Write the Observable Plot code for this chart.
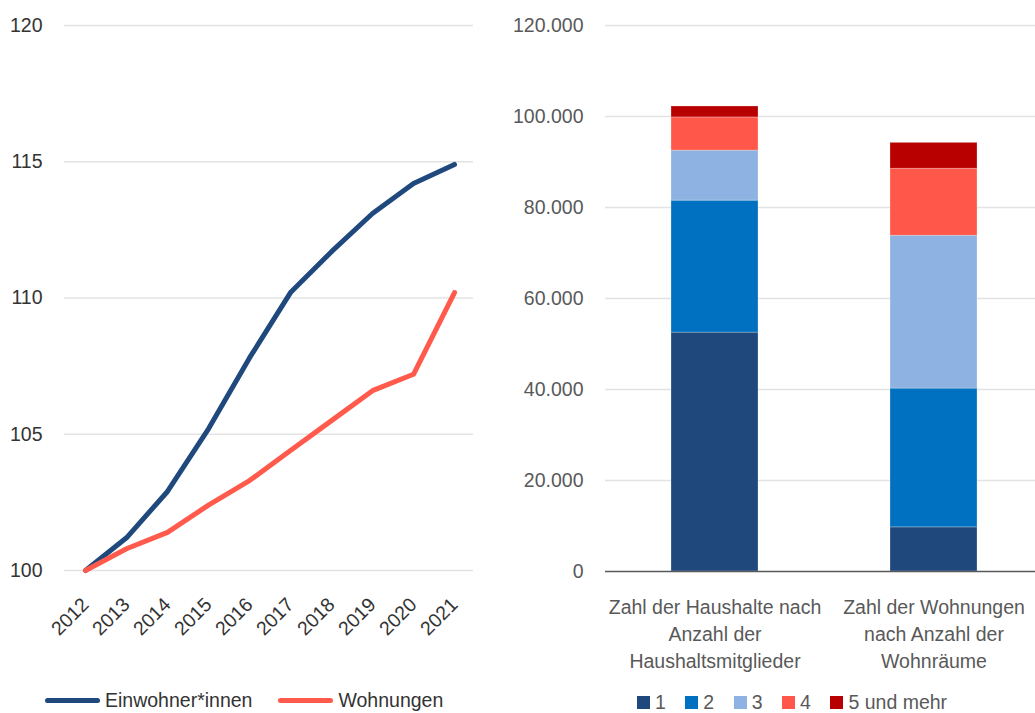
<!DOCTYPE html>
<html><head><meta charset="utf-8">
<script src="https://cdn.jsdelivr.net/npm/d3@7"></script>
<script src="https://cdn.jsdelivr.net/npm/@observablehq/plot@0.6"></script>
<style>
body{margin:0;background:#fff;font-family:"Liberation Sans",Arial,sans-serif;}
#wrap{position:relative;width:1035px;height:713px;overflow:hidden;}
#left{position:absolute;left:0;top:0;}
#right{position:absolute;left:500px;top:0;}
.leg{position:absolute;display:flex;align-items:center;font-size:19.5px;line-height:24px;white-space:nowrap;}
#legL{left:45px;top:688px;color:#333;}
#legL .it{display:flex;align-items:center;}
#legL .sw{width:55px;height:5px;border-radius:3px;margin-right:5px;}
#legR{left:637px;top:690px;color:#595959;gap:19.5px;}
#legR .it{display:flex;align-items:center;}
#legR .sw{width:13px;height:13px;margin-right:5px;}
</style></head><body>
<div id="wrap"><div id="left"></div><div id="right"></div>
<div class="leg" id="legL"></div><div class="leg" id="legR"></div></div>
<script>
const years = [2012, 2013, 2014, 2015, 2016, 2017, 2018, 2019, 2020, 2021];
const einwohner = [100, 101.2, 102.9, 105.2, 107.8, 110.2, 111.7, 113.1, 114.2, 114.9];
const wohnungen = [100, 100.8, 101.4, 102.4, 103.3, 104.4, 105.5, 106.6, 107.2, 110.2];
const lineSeries = ["Einwohner*innen", "Wohnungen"];
const lineColors = ["#1F497D", "#FF5A4B"];
const leftTicks = [100, 105, 110, 115, 120];

const categories = ["Zahl der Haushalte nach\nAnzahl der\nHaushaltsmitglieder", "Zahl der Wohnungen\nnach Anzahl der\nWohnräume"];
const groups = ["1", "2", "3", "4", "5 und mehr"];
const haushalte = [52500, 29000, 11000, 7300, 2400];
const wohnraeume = [9700, 30500, 33600, 14700, 5700];
const groupColors = ["#1F497D", "#0070C0", "#8EB3E2", "#FF584A", "#B90000"];
const rightTicks = [0, 20000, 40000, 60000, 80000, 100000, 120000];

const font = '"Liberation Sans",Arial,sans-serif';
const fs = "19.5px";
const de = d3.formatLocale({decimal: ",", thousands: ".", grouping: [3], currency: ["", " €"]}).format(",");

const lineData = [];
years.forEach((y, i) => lineData.push({year: y, value: einwohner[i], series: lineSeries[0]}));
years.forEach((y, i) => lineData.push({year: y, value: wohnungen[i], series: lineSeries[1]}));

const left = Plot.plot({
  width: 480, height: 640, marginLeft: 64, marginRight: 7, marginTop: 25, marginBottom: 70,
  style: {fontSize: fs, fontFamily: font, color: "#333", background: "transparent"},
  x: {type: "point", domain: years, range: [84, 454], padding: 0, axis: null},
  y: {domain: [100, 120], axis: null},
  color: {domain: lineSeries, range: lineColors},
  marks: [
    Plot.gridY(leftTicks, {stroke: "#e3e3e3", strokeOpacity: 1, strokeWidth: 1.5}),
    Plot.axisY(leftTicks, {tickSize: 0, tickPadding: 22, fill: "#333", label: null}),
    Plot.axisX({tickSize: 0, tickPadding: 31, tickRotate: -45, tickFormat: d => String(d), fill: "#333", label: null}),
    Plot.line(lineData, {x: "year", y: "value", stroke: "series", z: "series", strokeWidth: 5, strokeLinecap: "round", strokeLinejoin: "round"})
  ]
});
document.getElementById("left").appendChild(left);

const barData = [];
groups.forEach((g, i) => barData.push({cat: categories[0], group: g, value: haushalte[i]}));
groups.forEach((g, i) => barData.push({cat: categories[1], group: g, value: wohnraeume[i]}));

const right = Plot.plot({
  width: 535, height: 680, marginLeft: 105, marginRight: 0, marginTop: 25, marginBottom: 109,
  style: {fontSize: fs, fontFamily: font, color: "#595959", background: "transparent"},
  x: {type: "band", domain: categories, paddingInner: 0.6027, paddingOuter: 0.283, align: 0.532, axis: null},
  y: {domain: [0, 120000], axis: null},
  color: {domain: groups, range: groupColors},
  marks: [
    Plot.gridY(rightTicks.slice(1), {stroke: "#e3e3e3", strokeOpacity: 1, strokeWidth: 1.5}),
    Plot.barY(barData, {x: "cat", y: "value", fill: "group", stroke: "white", strokeOpacity: 0.25, strokeWidth: 1}),
    Plot.ruleY([0], {stroke: "#595959", strokeWidth: 1.5}),
    Plot.axisY(rightTicks, {tickSize: 0, tickPadding: 22, tickFormat: de, fill: "#595959", label: null}),
    Plot.axisX({tickSize: 0, tickPadding: 23, lineHeight: 1.385, fill: "#595959", label: null})
  ]
});
document.getElementById("right").appendChild(right);

const legL = document.getElementById("legL");
lineSeries.forEach((s, i) => {
  const it = document.createElement("div"); it.className = "it";
  if (i > 0) it.style.marginLeft = "26px";
  const sw = document.createElement("div"); sw.className = "sw"; sw.style.background = lineColors[i];
  const t = document.createElement("span"); t.textContent = s;
  it.appendChild(sw); it.appendChild(t); legL.appendChild(it);
});
const legR = document.getElementById("legR");
groups.forEach((g, i) => {
  const it = document.createElement("div"); it.className = "it";
  const sw = document.createElement("div"); sw.className = "sw"; sw.style.background = groupColors[i];
  const t = document.createElement("span"); t.textContent = g;
  it.appendChild(sw); it.appendChild(t); legR.appendChild(it);
});
</script></body></html>
